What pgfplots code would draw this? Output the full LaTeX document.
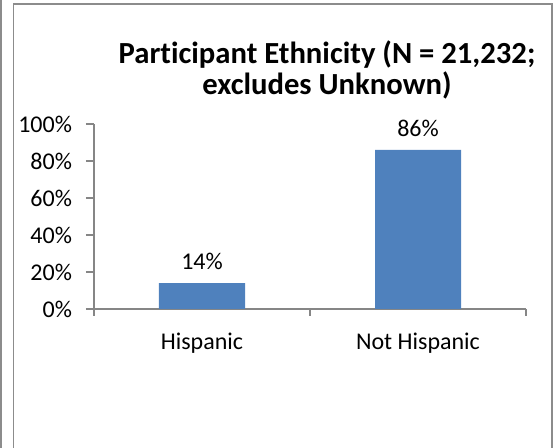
\documentclass[border=0pt]{standalone}
\usepackage{pgfplots}
\pgfplotsset{compat=1.18}
\usepackage{fontspec}
\setmainfont[Ligatures=NoCommon]{Carlito}
\definecolor{barblue}{HTML}{4F81BD}
\definecolor{axgray}{HTML}{868686}
\definecolor{framegray}{HTML}{8C8C8C}
\begin{document}
\begin{tikzpicture}
\path[use as bounding box] (0pt,0pt) rectangle (414.75pt,336pt);
% chart frame
\draw[framegray, line width=1.1pt] (10.2pt,-1pt) -- (10.2pt,333pt) -- (414pt,333pt) -- (414pt,-1pt);
\draw[framegray, line width=1.1pt] (0.6pt,-1pt) -- (0.6pt,337pt);
% title
\node[align=center, font=\fontsize{23}{23.25}\selectfont\bfseries] at (245.25pt,283.5pt)
  {Participant Ethnicity (N = 21,232;\\excludes Unknown)};
\begin{axis}[
  at={(70.5pt,104.25pt)}, anchor=south west,
  scale only axis, width=324pt, height=138.75pt,
  xmin=-0.5, xmax=1.5, ymin=0, ymax=100,
  axis lines=left, axis line style={-, axgray, line width=0.8pt},
  tick align=outside,
  xtick={0,1}, xticklabels={Hispanic, Not Hispanic},
  major x tick style={draw=none},
  minor xtick={-0.5,0.5,1.5},
  minor tick length=5.25pt, major tick length=6pt,
  every tick/.style={axgray, line width=0.8pt},
  ytick={0,20,40,60,80,100},
  yticklabel={\pgfmathprintnumber{\tick}\%},
  /pgf/number format/assume math mode=true,
  ticklabel style={font=\fontsize{18}{20}\selectfont, text=black},
  xticklabel style={yshift=-8.5pt},
  yticklabel style={xshift=-7pt},
  ybar, bar width=64.5pt,
  nodes near coords={\pgfmathprintnumber{\pgfplotspointmeta}\%},
  nodes near coords style={font=\fontsize{18}{20}\selectfont, text=black, yshift=6.5pt},
  clip=false,
]
\addplot[fill=barblue, draw=none] coordinates {(0,14) (1,86)};
\end{axis}
\end{tikzpicture}
\end{document}
